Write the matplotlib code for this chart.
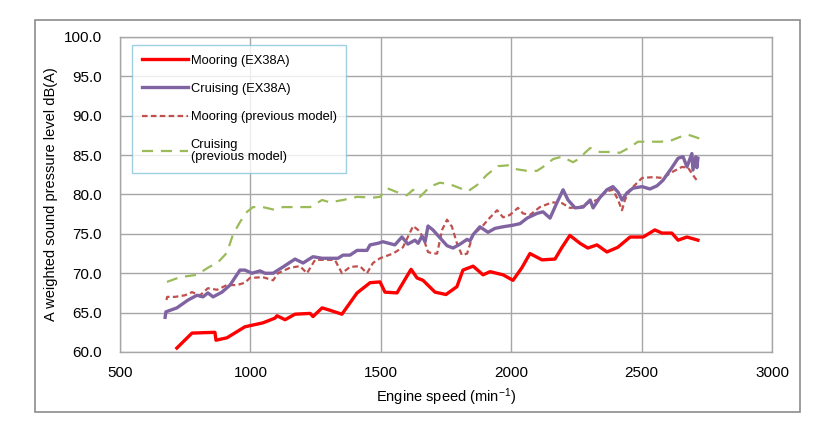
import matplotlib
matplotlib.use("Agg")
import matplotlib.pyplot as plt
from matplotlib.patches import Rectangle

plt.rcParams['font.family'] = ['Liberation Sans', 'DejaVu Sans']
plt.rcParams['mathtext.default'] = 'regular'

# Mooring (EX38A)
moor_x = [718, 776, 864, 868, 910, 979, 1048, 1094, 1102, 1133, 1171, 1229, 1240, 1275, 1305,
          1351, 1409, 1459, 1497, 1516, 1562, 1616, 1639, 1662, 1708, 1750, 1792, 1815, 1854,
          1892, 1919, 1969, 2007, 2041, 2072, 2118, 2168, 2195, 2225, 2264, 2294, 2329, 2367,
          2409, 2456, 2506, 2551, 2578, 2616, 2640, 2674, 2716]
moor_y = [60.5, 62.4, 62.5, 61.5, 61.8, 63.2, 63.7, 64.3, 64.6, 64.1, 64.8, 64.9, 64.5, 65.6, 65.3,
          64.8, 67.5, 68.8, 68.9, 67.6, 67.5, 70.5, 69.4, 69.1, 67.6, 67.3, 68.3, 70.4, 70.9,
          69.8, 70.2, 69.8, 69.1, 70.7, 72.5, 71.7, 71.8, 73.3, 74.8, 73.8, 73.2, 73.6, 72.7,
          73.3, 74.6, 74.6, 75.5, 75.1, 75.1, 74.2, 74.6, 74.2]

# Cruising (EX38A)
cruise_x = [673, 676, 718, 761, 795, 818, 837, 857, 891, 922, 960, 979, 1006, 1037, 1056, 1087,
            1125, 1171, 1202, 1240, 1275, 1313, 1336, 1355, 1382, 1409, 1447, 1459, 1489, 1508,
            1554, 1581, 1604, 1631, 1643, 1658, 1670, 1681, 1700, 1727, 1754, 1777, 1804, 1831,
            1842, 1854, 1880, 1911, 1938, 1969, 2007, 2034, 2061, 2099, 2122, 2149, 2176, 2199,
            2218, 2245, 2276, 2303, 2314, 2340, 2367, 2390, 2410, 2425, 2444, 2467, 2502, 2532,
            2559, 2582, 2616, 2640, 2659, 2674, 2693, 2697, 2708, 2712, 2716]
cruise_y = [64.4, 65.1, 65.6, 66.6, 67.2, 67.0, 67.5, 67.0, 67.6, 68.5, 70.4, 70.4, 70.0, 70.3,
            70.0, 70.0, 70.8, 71.8, 71.3, 72.1, 71.9, 71.9, 71.9, 72.3, 72.3, 72.9, 72.9, 73.6,
            73.8, 74.0, 73.6, 74.6, 73.7, 74.2, 73.8, 74.7, 74.0, 76.0, 75.5, 74.5, 73.5, 73.2,
            73.7, 74.3, 74.1, 74.9, 75.9, 75.2, 75.7, 75.9, 76.1, 76.3, 77.0, 77.6, 77.8, 77.0,
            79.0, 80.6, 79.3, 78.3, 78.4, 79.3, 78.3, 79.6, 80.6, 81.0, 80.3, 79.3, 80.2, 80.8,
            81.0, 80.7, 81.1, 81.8, 83.4, 84.6, 84.8, 83.5, 85.2, 83.1, 84.8, 83.4, 84.6]

# Mooring (previous model)
moor_prev_x = [678, 681, 711, 749, 776, 807, 837, 872, 910, 949, 979, 998, 1048, 1087, 1106, 1152,
               1190, 1217, 1248, 1305, 1324, 1351, 1382, 1420, 1447, 1470, 1497, 1547, 1585, 1624,
               1643, 1662, 1681, 1700, 1716, 1735, 1754, 1773, 1792, 1811, 1831, 1854, 1888, 1911,
               1946, 1969, 1995, 2026, 2045, 2072, 2110, 2157, 2195, 2225, 2264, 2291, 2329, 2367,
               2390, 2410, 2425, 2436, 2456, 2502, 2544, 2582, 2620, 2655, 2678, 2705, 2712]
moor_prev_y = [66.6, 67.0, 67.0, 67.2, 67.6, 67.2, 68.1, 67.9, 68.5, 68.5, 68.8, 69.4, 69.5, 69.1,
               70.0, 70.7, 70.9, 70.0, 71.7, 71.7, 71.7, 70.0, 70.8, 70.9, 70.0, 71.3, 71.9, 72.5,
               73.3, 76.0, 75.5, 74.6, 72.7, 72.5, 72.5, 75.5, 76.8, 75.9, 73.8, 72.3, 72.5, 74.9,
               75.9, 76.8, 78.0, 77.1, 77.4, 78.3, 77.6, 77.4, 78.4, 79.0, 78.9, 78.3, 78.4, 78.9,
               79.3, 80.4, 80.6, 79.3, 78.0, 79.3, 80.6, 82.1, 82.2, 82.1, 82.9, 83.5, 83.4, 82.1,
               81.8]

# Cruising (previous model)
cruise_prev_x = [680, 730, 795, 837, 876, 910, 933, 960, 987, 1010, 1048, 1087, 1125, 1179, 1229,
                 1275, 1305, 1355, 1409, 1470, 1497, 1524, 1562, 1600, 1624, 1650, 1689, 1727,
                 1765, 1804, 1834, 1869, 1907, 1949, 1988, 2022, 2061, 2099, 2122, 2161, 2195,
                 2237, 2264, 2283, 2303, 2340, 2379, 2417, 2456, 2486, 2532, 2571, 2609, 2647,
                 2678, 2705, 2732]
cruise_prev_y = [68.9, 69.5, 69.8, 70.7, 71.4, 72.6, 74.9, 76.5, 77.8, 78.4, 78.4, 78.1, 78.4,
                 78.4, 78.4, 79.3, 79.0, 79.3, 79.7, 79.6, 79.7, 80.8, 80.3, 79.9, 80.6, 79.7,
                 81.0, 81.5, 81.3, 80.8, 80.4, 81.2, 82.5, 83.6, 83.7, 83.2, 83.0, 83.0, 83.5,
                 84.5, 84.8, 84.1, 84.6, 85.3, 85.9, 85.4, 85.4, 85.3, 86.0, 86.7, 86.7, 86.7,
                 86.8, 87.3, 87.6, 87.3, 87.0]

x_ticks = [500, 1000, 1500, 2000, 2500, 3000]
y_ticks = [60, 65, 70, 75, 80, 85, 90, 95, 100]

fig = plt.figure(figsize=(8.38, 4.30), dpi=100)
fig.patch.set_facecolor("white")
ax = fig.add_axes([0.1432, 0.1814, 0.778, 0.7326])

# outer chart border
fig.add_artist(Rectangle((0.0418, 0.0419), 0.913, 0.9116, transform=fig.transFigure,
                         fill=False, edgecolor="#8c8c8c", lw=1.2))

ax.plot(moor_x, moor_y, color="#ff0000", lw=2.4, label="Mooring (EX38A)", zorder=4)
ax.plot(cruise_x, cruise_y, color="#8064a2", lw=2.4, label="Cruising (EX38A)", zorder=3)
ax.plot(moor_prev_x, moor_prev_y, color="#c0504d", lw=1.6, dashes=(2.5, 1.5),
        label="Mooring (previous model)", zorder=2)
ax.plot(cruise_prev_x, cruise_prev_y, color="#9bbb59", lw=1.6, dashes=(5, 3.5),
        label="Cruising\n(previous model)", zorder=2)

ax.set_xlim(500, 3000)
ax.set_ylim(60, 100)
ax.set_xticks(x_ticks)
ax.set_yticks(y_ticks)
ax.set_yticklabels(["%.1f" % v for v in y_ticks])
ax.tick_params(length=0, labelsize=11, colors="#000000")
ax.tick_params(axis="y", pad=13)
ax.tick_params(axis="x", pad=10)
ax.grid(True, color="#a6a6a6", lw=1)
ax.set_axisbelow(True)
for sp in ax.spines.values():
    sp.set_color("#a6a6a6")
    sp.set_linewidth(1)

ax.set_xlabel("Engine speed (min$^{-1}$)", fontsize=10.5, labelpad=5)
ax.set_ylabel("A weighted sound pressure level dB(A)", fontsize=10.5, labelpad=4)

leg = ax.legend(loc="upper left", bbox_to_anchor=(132 / 838, 1 - 45 / 430),
                bbox_transform=fig.transFigure, borderaxespad=0, fontsize=9.3,
                frameon=True, fancybox=False, handlelength=3.6, handletextpad=0.2,
                labelspacing=1.25, borderpad=0.75)
leg.get_frame().set_edgecolor("#86c5da")
leg.get_frame().set_linewidth(1)
leg.get_texts()[3].set_linespacing(1.0)

fig.savefig("out.png", dpi=100, facecolor="white")
